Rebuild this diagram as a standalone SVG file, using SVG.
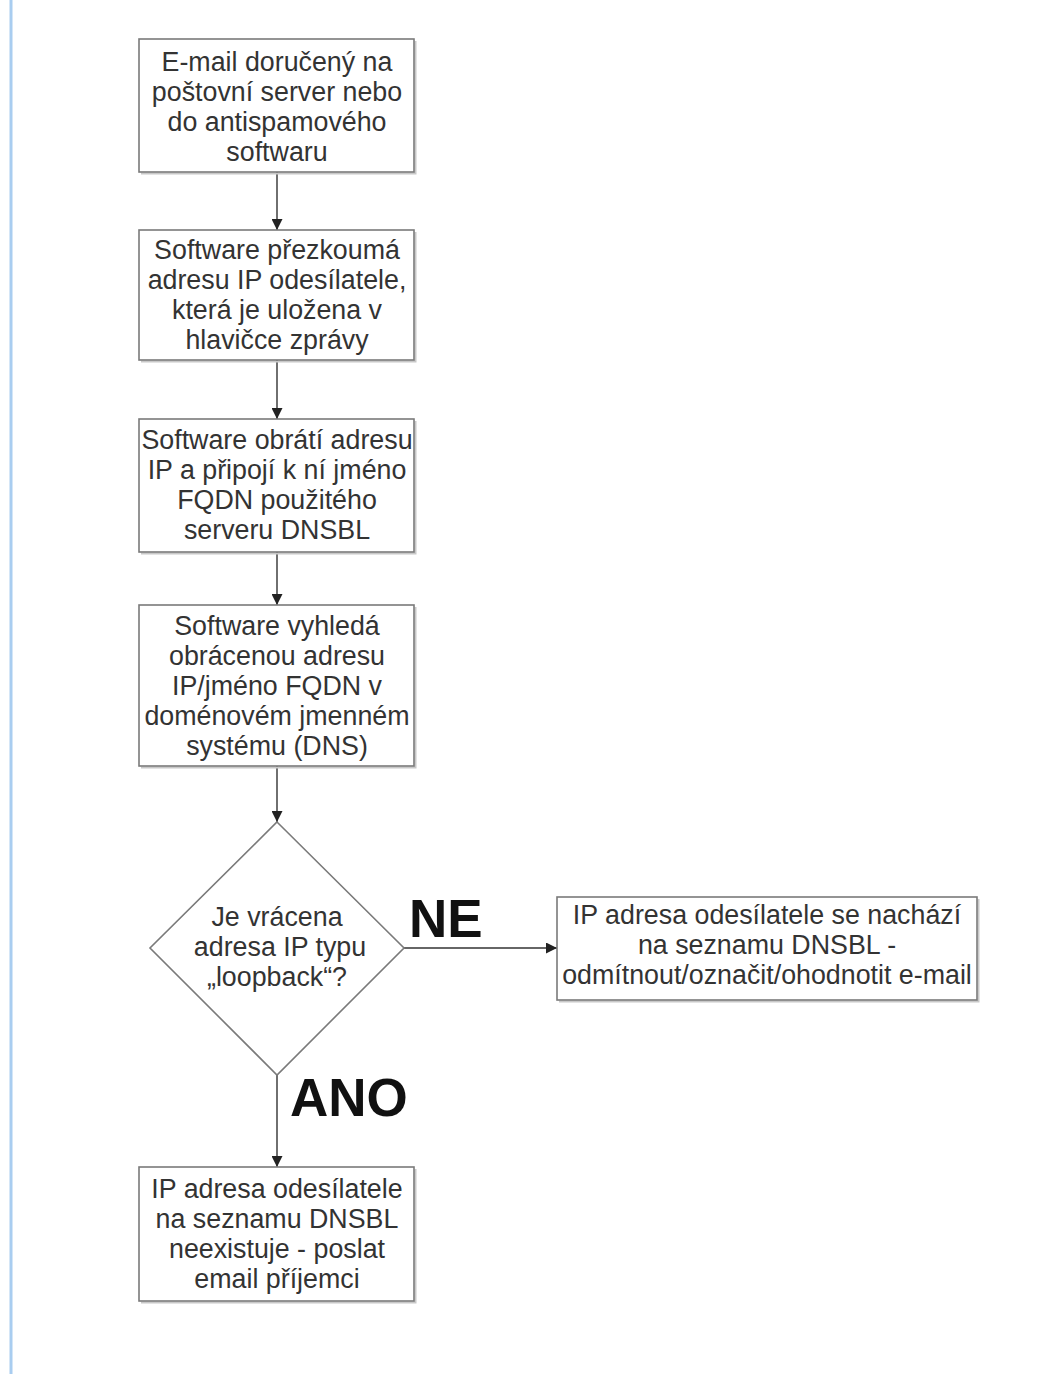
<svg xmlns="http://www.w3.org/2000/svg" width="1064" height="1374" viewBox="0 0 1064 1374">
<style>
.box{fill:#fff;stroke:#7a7a7a;stroke-width:1.6}
.sh{fill:none;stroke:#c8c8c8;stroke-width:2}
.t{font-family:"Liberation Sans",Arial,sans-serif;font-size:26.8px;fill:#333;text-anchor:middle}
.big{font-family:"Liberation Sans",Arial,sans-serif;font-size:53px;font-weight:bold;fill:#111}
.c{stroke:#333;stroke-width:1.4;fill:none;marker-end:url(#ah)}
</style>
<defs>
<marker id="ah" viewBox="0 0 10 10" refX="10" refY="5" markerWidth="11" markerHeight="11" markerUnits="userSpaceOnUse" orient="auto">
<path d="M0,0 L10,5 L0,10 z" fill="#222"/>
</marker>
</defs>
<rect width="1064" height="1374" fill="#fff"/>
<line x1="11" y1="0" x2="11" y2="1374" stroke="#a9cdf0" stroke-width="3"/>
<g id="connectors">
<line class="c" x1="277" y1="172" x2="277" y2="230"/>
<line class="c" x1="277" y1="360" x2="277" y2="419"/>
<line class="c" x1="277" y1="552" x2="277" y2="605"/>
<line class="c" x1="277" y1="766" x2="277" y2="822"/>
<line class="c" x1="404" y1="948" x2="557" y2="948"/>
<line class="c" x1="277" y1="1075" x2="277" y2="1167"/>
</g>
<g id="n1">
<polyline class="sh" points="141,173.5 415.5,173.5 415.5,41"/>
<rect class="box" x="139" y="39" width="275" height="133"/>
<text class="t"><tspan x="277" y="71">E-mail doručený na</tspan><tspan x="277" y="101">poštovní server nebo</tspan><tspan x="277" y="131">do antispamového</tspan><tspan x="277" y="161">softwaru</tspan></text>
</g>
<g id="n2">
<polyline class="sh" points="141,361.5 415.5,361.5 415.5,232"/>
<rect class="box" x="139" y="230" width="275" height="130"/>
<text class="t"><tspan x="277" y="259">Software přezkoumá</tspan><tspan x="277" y="289">adresu IP odesílatele,</tspan><tspan x="277" y="319">která je uložena v</tspan><tspan x="277" y="349">hlavičce zprávy</tspan></text>
</g>
<g id="n3">
<polyline class="sh" points="141,553.5 415.5,553.5 415.5,421"/>
<rect class="box" x="139" y="419" width="275" height="133"/>
<text class="t"><tspan x="277" y="449">Software obrátí adresu</tspan><tspan x="277" y="479">IP a připojí k ní jméno</tspan><tspan x="277" y="509">FQDN použitého</tspan><tspan x="277" y="539">serveru DNSBL</tspan></text>
</g>
<g id="n4">
<polyline class="sh" points="141,767.5 415.5,767.5 415.5,607"/>
<rect class="box" x="139" y="605" width="275" height="161"/>
<text class="t"><tspan x="277" y="635">Software vyhledá</tspan><tspan x="277" y="665">obrácenou adresu</tspan><tspan x="277" y="695">IP/jméno FQDN v</tspan><tspan x="277" y="725">doménovém jmenném</tspan><tspan x="277" y="755">systému (DNS)</tspan></text>
</g>
<g id="d1">
<polygon class="box" points="277,822 404,948 277,1075 150,948"/>
<text class="t"><tspan x="277" y="926">Je vrácena</tspan><tspan x="280" y="956">adresa IP typu</tspan><tspan x="277" y="986">„loopback“?</tspan></text>
</g>
<g id="n5">
<polyline class="sh" points="559,1001.5 978.5,1001.5 978.5,899"/>
<rect class="box" x="557" y="897" width="420" height="103"/>
<text class="t"><tspan x="767" y="924">IP adresa odesílatele se nachází</tspan><tspan x="767" y="954">na seznamu DNSBL -</tspan><tspan x="767" y="984">odmítnout/označit/ohodnotit e-mail</tspan></text>
</g>
<g id="n6">
<polyline class="sh" points="141,1302.5 415.5,1302.5 415.5,1169"/>
<rect class="box" x="139" y="1167" width="275" height="134"/>
<text class="t"><tspan x="277" y="1198">IP adresa odesílatele</tspan><tspan x="277" y="1228">na seznamu DNSBL</tspan><tspan x="277" y="1258">neexistuje - poslat</tspan><tspan x="277" y="1288">email příjemci</tspan></text>
</g>
<text class="big" x="409" y="937">NE</text>
<text class="big" x="290" y="1116">ANO</text>
</svg>
